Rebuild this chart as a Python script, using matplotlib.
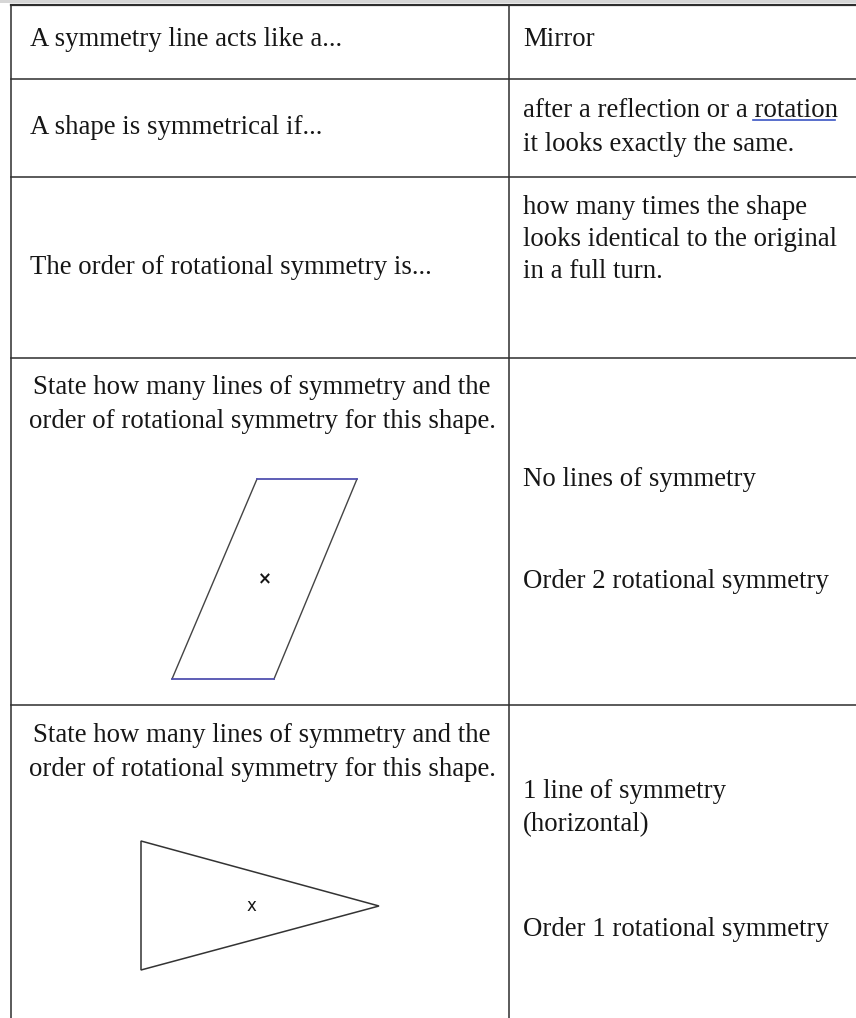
import matplotlib.pyplot as plt
from matplotlib.patches import Polygon

# table content
question_rows = [
    "A symmetry line acts like a...",
    "A shape is symmetrical if...",
    "The order of rotational symmetry is...",
]
answer_rows = [
    ["Mirror"],
    ["after a reflection or a rotation", "it looks exactly the same."],
    ["how many times the shape", "looks identical to the original", "in a full turn."],
]
shape_question = ["State how many lines of symmetry and the",
                  "order of rotational symmetry for this shape."]
shape_answers = [
    ["No lines of symmetry", "Order 2 rotational symmetry"],
    ["1 line of symmetry", "(horizontal)", "Order 1 rotational symmetry"],
]

# shapes (drawn in pixel space of the page)
para_x = [257, 357, 274, 172]
para_y = [479, 479, 679, 679]
tri_x = [141, 379, 141]
tri_y = [841, 906, 970]

W, H = 856, 1018
row_lines = [5, 79, 177, 358, 705]
left_x, mid_x = 11, 509
text_x_left, text_x_right = 30, 523

FONT = "Liberation Serif"
FS = 19.3
INK = "#161616"
DY = 2  # small nudge so the baselines sit where the reference has them

fig = plt.figure(figsize=(W / 100, H / 100), dpi=100)
ax = fig.add_axes([0, 0, 1, 1])
ax.set_xlim(0, W)
ax.set_ylim(H, 0)
ax.axis("off")

# grey strip above the table
ax.axhspan(0, 3, color="#d6d6d6", lw=0)

# grid
for i, y in enumerate(row_lines):
    ax.plot([left_x, W], [y, y], color="#2e2e2e", lw=1.6 if i == 0 else 1.1)
ax.plot([left_x, left_x], [row_lines[0], H], color="#2e2e2e", lw=1.1)
ax.plot([mid_x, mid_x], [row_lines[0], H], color="#2e2e2e", lw=1.1)


def put(x, y, s, ha="left"):
    ax.text(x, y + DY, s, fontsize=FS, family=FONT, color=INK, ha=ha, va="center")


# first three rows
left_y = [37, 125, 265]
right_y = [[37], [108, 142], [205, 237, 270]]
for q, ly, answers, rys in zip(question_rows, left_y, answer_rows, right_y):
    put(text_x_left, ly, q)
    for a, ry in zip(answers, rys):
        put(text_x_right, ry, a)

# blue underline under "rotation"
ax.plot([753, 835], [120, 120], color="#3b55c4", lw=1.2)

# shape rows
col_center = (left_x + mid_x) / 2 + 2
for qy in ([385, 420], [733, 767]):
    for s, y in zip(shape_question, qy):
        put(col_center, y, s, ha="center")

for s, y in zip(shape_answers[0], [477, 580]):
    put(text_x_right, y, s)
for s, y in zip(shape_answers[1], [790, 823, 928]):
    put(text_x_right, y, s)

# parallelogram: grey sides, blue top/bottom
ax.plot([para_x[0], para_x[3]], [para_y[0], para_y[3]], color="#444444", lw=1.0)
ax.plot([para_x[1], para_x[2]], [para_y[1], para_y[2]], color="#444444", lw=1.0)
ax.plot(para_x[:2], para_y[:2], color="#5050b0", lw=1.3)
ax.plot(para_x[2:], para_y[2:], color="#5050b0", lw=1.3)
ax.text(265, 579, "×", fontsize=12, family="DejaVu Sans", color=INK, ha="center", va="center",
        fontweight="bold")

# triangle
ax.add_patch(Polygon(list(zip(tri_x, tri_y)), closed=True, fill=False,
                     edgecolor="#333333", lw=1.1))
ax.text(251, 906, "x", fontsize=12, family="DejaVu Sans", color=INK, ha="center", va="center")

fig.savefig("out.png", dpi=100, facecolor="white")
